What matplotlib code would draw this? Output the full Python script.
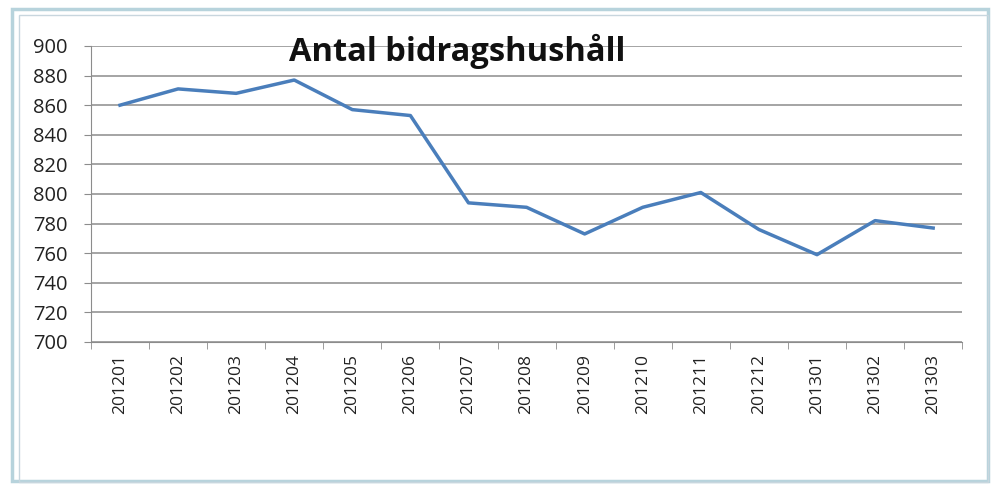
import numpy as np
import matplotlib.pyplot as plt
from matplotlib.patches import Rectangle

# Månadsdata
manader = ['201201', '201202', '201203', '201204', '201205', '201206', '201207',
           '201208', '201209', '201210', '201211', '201212', '201301', '201302', '201303']
hushall = [860, 871, 868, 877, 857, 853, 794, 791, 773, 791, 801, 776, 759, 782, 777]
y_ticks = [700, 720, 740, 760, 780, 800, 820, 840, 860, 880, 900]

plt.rcParams['font.family'] = ['Open Sans', 'DejaVu Sans']

fig = plt.figure(figsize=(9.94, 4.84), dpi=100)
ax = fig.add_axes([0.0915, 0.2934, 0.8765, 0.6116])

x = np.arange(len(manader))
ax.plot(x, hushall, color='#4a7ebb', linewidth=2.5, solid_joinstyle='round', zorder=3)

ax.set_xlim(-0.5, len(manader) - 0.5)
ax.set_ylim(700, 900)
ax.set_yticks(y_ticks)
ax.set_yticklabels([str(v) for v in y_ticks], fontsize=14.5, color='#222222')
ax.yaxis.grid(True, color='#8c8c8c', linewidth=1.1)
ax.set_axisbelow(True)

ax.set_xticks(x)
ax.set_xticklabels(manader, rotation=90, fontsize=12.5, color='#222222')
ax.set_xticks(np.arange(-0.5, len(manader), 1), minor=True)
ax.tick_params(axis='x', which='major', length=0, pad=9)
ax.tick_params(axis='x', which='minor', length=5, color='#8c8c8c', direction='out')
ax.tick_params(axis='y', length=5, color='#8c8c8c', pad=12)

for side in ['top', 'right']:
    ax.spines[side].set_visible(False)
ax.spines['left'].set_color('#8c8c8c')
ax.spines['bottom'].set_color('#8c8c8c')

fig.text(0.46, 0.893, 'Antal bidragshushåll', fontsize=23.5, fontweight='bold',
         ha='center', va='center', color='#111111')

# Ram runt diagrammet
fig.patches.append(Rectangle((0.012, 0.006), 0.982, 0.975, transform=fig.transFigure,
                             fill=False, edgecolor='#b7d3dc', linewidth=2.5))
fig.patches.append(Rectangle((0.019, 0.004), 0.975, 0.965, transform=fig.transFigure,
                             fill=False, edgecolor='#c8d6de', linewidth=1))

fig.savefig('out.png', dpi=100)
